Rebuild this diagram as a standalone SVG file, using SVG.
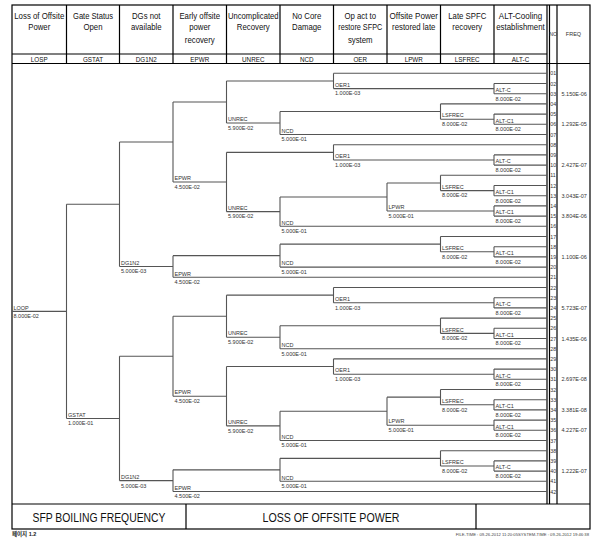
<svg xmlns="http://www.w3.org/2000/svg" width="592" height="538" viewBox="0 0 592 538">
<style>
.fr{stroke:#000;stroke-width:1.2;fill:none}
.br{stroke:#555;stroke-width:1.1;fill:none}
text{font-family:"Liberation Sans",Arial,sans-serif}
.hd{font-size:9.5px;text-anchor:middle;fill:#111}
.cd{font-size:6.3px;text-anchor:middle;fill:#111}
.lb{font-size:5.5px;fill:#333}
.no{font-size:5.3px;fill:#333}
.fq{font-size:5.5px;fill:#333}
.ttl{font-size:13.5px;text-anchor:middle;fill:#111}
</style>
<rect width="592" height="538" fill="#fff"/>
<g id="frame">
<rect class="fr" x="12" y="5" width="578" height="524"/>
<path class="fr" d="M12 54H547M12 63.5H590M12 504H590"/>
<path class="fr" d="M66.5 5V63.5M119.5 5V63.5M173 5V63.5M226.5 5V63.5M280 5V63.5M333.5 5V63.5M387 5V63.5M440.5 5V63.5M494 5V63.5"/>
<path class="fr" d="M547 5V504M549.5 5V504M557 5V504M186 504V529M476 504V529"/>
</g>
<g id="header">
<g id="h-losp"><text class="hd" x="39.25" y="18.5" textLength="50" lengthAdjust="spacingAndGlyphs">Loss of Offsite</text><text class="hd" x="39.25" y="30" textLength="22" lengthAdjust="spacingAndGlyphs">Power</text><text class="cd" x="39.25" y="61.5">LOSP</text></g>
<g id="h-gstat"><text class="hd" x="93" y="18.5" textLength="40" lengthAdjust="spacingAndGlyphs">Gate Status</text><text class="hd" x="93" y="30" textLength="19" lengthAdjust="spacingAndGlyphs">Open</text><text class="cd" x="93" y="61.5">GSTAT</text></g>
<g id="h-dg1n2"><text class="hd" x="146.25" y="18.5" textLength="28.5" lengthAdjust="spacingAndGlyphs">DGs not</text><text class="hd" x="146.25" y="30" textLength="30.7" lengthAdjust="spacingAndGlyphs">available</text><text class="cd" x="146.25" y="61.5">DG1N2</text></g>
<g id="h-epwr"><text class="hd" x="199.75" y="18.5" textLength="40.7" lengthAdjust="spacingAndGlyphs">Early offsite</text><text class="hd" x="199.75" y="30" textLength="21.2" lengthAdjust="spacingAndGlyphs">power</text><text class="hd" x="199.75" y="42.5" textLength="29.9" lengthAdjust="spacingAndGlyphs">recovery</text><text class="cd" x="199.75" y="61.5">EPWR</text></g>
<g id="h-unrec"><text class="hd" x="253.25" y="18.5" textLength="50.5" lengthAdjust="spacingAndGlyphs">Uncomplicated</text><text class="hd" x="253.25" y="30" textLength="32.9" lengthAdjust="spacingAndGlyphs">Recovery</text><text class="cd" x="253.25" y="61.5">UNREC</text></g>
<g id="h-ncd"><text class="hd" x="306.75" y="18.5" textLength="29" lengthAdjust="spacingAndGlyphs">No Core</text><text class="hd" x="306.75" y="30" textLength="29.4" lengthAdjust="spacingAndGlyphs">Damage</text><text class="cd" x="306.75" y="61.5">NCD</text></g>
<g id="h-oer"><text class="hd" x="360.25" y="18.5" textLength="31.6" lengthAdjust="spacingAndGlyphs">Op act to</text><text class="hd" x="360.25" y="30" textLength="44" lengthAdjust="spacingAndGlyphs">restore SFPC</text><text class="hd" x="360.25" y="42.5" textLength="24.7" lengthAdjust="spacingAndGlyphs">system</text><text class="cd" x="360.25" y="61.5">OER</text></g>
<g id="h-lpwr"><text class="hd" x="413.75" y="18.5" textLength="48.5" lengthAdjust="spacingAndGlyphs">Offsite Power</text><text class="hd" x="413.75" y="30" textLength="43.3" lengthAdjust="spacingAndGlyphs">restored late</text><text class="cd" x="413.75" y="61.5">LPWR</text></g>
<g id="h-lsfrec"><text class="hd" x="467.25" y="18.5" textLength="38" lengthAdjust="spacingAndGlyphs">Late SPFC</text><text class="hd" x="467.25" y="30" textLength="29.9" lengthAdjust="spacingAndGlyphs">recovery</text><text class="cd" x="467.25" y="61.5">LSFREC</text></g>
<g id="h-altc"><text class="hd" x="520.5" y="18.5" textLength="43.3" lengthAdjust="spacingAndGlyphs">ALT-Cooling</text><text class="hd" x="520.5" y="30" textLength="48.5" lengthAdjust="spacingAndGlyphs">establishment</text><text class="cd" x="520.5" y="61.5">ALT-C</text></g>
<g id="h-no"><text class="no" x="553.25" y="35.5" text-anchor="middle">NO</text></g>
<g id="h-freq"><text class="fq" x="573.5" y="35.5" text-anchor="middle">FREQ</text></g>
</g>
<g id="connectors" class="br">
<path d="M12 311.33H66.5M66.5 204.23H119.5M66.5 418.43H119.5M119.5 141.99H173M119.5 266.46H173M119.5 356.19H173M119.5 480.66H173M173 101.99H226.5M173 181.99H226.5M173 316.19H226.5M173 396.19H226.5"/>
<path d="M226.5 80.95H333.5M226.5 123.03H280M333.5 73.3H547M333.5 88.6H494M494 83.5H547M494 93.7H547M280 111.55H440.5M280 134.5H547M440.5 103.9H547M440.5 119.2H494M494 114.1H547M494 124.3H547"/>
<path d="M226.5 152.35H333.5M226.5 211.64H280M333.5 144.7H547M333.5 160H494M494 154.9H547M494 165.1H547M280 196.98H387M280 226.3H547M387 182.95H440.5M387 211H494M440.5 175.3H547M440.5 190.6H494M494 185.5H547M494 195.7H547M494 205.9H547M494 216.1H547"/>
<path d="M173 255.63H280M173 277.3H547M280 244.15H440.5M280 267.1H547M440.5 236.5H547M440.5 251.8H494M494 246.7H547M494 256.9H547"/>
<path d="M226.5 295.15H333.5M226.5 337.23H280M333.5 287.5H547M333.5 302.8H494M494 297.7H547M494 307.9H547M280 325.75H440.5M280 348.7H547M440.5 318.1H547M440.5 333.4H494M494 328.3H547M494 338.5H547"/>
<path d="M226.5 366.55H333.5M226.5 425.84H280M333.5 358.9H547M333.5 374.2H494M494 369.1H547M494 379.3H547M280 411.18H387M280 440.5H547M387 397.15H440.5M387 425.2H494M440.5 389.5H547M440.5 404.8H494M494 399.7H547M494 409.9H547M494 420.1H547M494 430.3H547"/>
<path d="M173 469.83H280M173 491.5H547M280 458.35H440.5M280 481.3H547M440.5 450.7H547M440.5 466H494M494 460.9H547M494 471.1H547"/>
</g>
<g id="nodes">
<g id="n-losp"><text class="lb" x="13.5" y="309.5">LOOP</text><text class="lb" x="13.5" y="318.1">8.000E-02</text></g>
<g id="n-gstat"><path class="br" d="M66.5 204.23V418.43"/><text class="lb" x="68" y="416.6">GSTAT</text><text class="lb" x="68" y="425.2">1.000E-01</text></g>
<g id="n-dg1n2-a"><path class="br" d="M119.5 141.99V266.46"/><text class="lb" x="121" y="264.7">DG1N2</text><text class="lb" x="121" y="273.3">5.000E-03</text></g>
<g id="n-dg1n2-b"><path class="br" d="M119.5 356.19V480.66"/><text class="lb" x="121" y="478.9">DG1N2</text><text class="lb" x="121" y="487.5">5.000E-03</text></g>
<g id="n-epwr-a"><path class="br" d="M173 101.99V181.99"/><text class="lb" x="174.5" y="180.2">EPWR</text><text class="lb" x="174.5" y="188.8">4.500E-02</text></g>
<g id="n-epwr-b"><path class="br" d="M173 255.63V277.3"/><text class="lb" x="174.5" y="275.5">EPWR</text><text class="lb" x="174.5" y="284.1">4.500E-02</text></g>
<g id="n-epwr-c"><path class="br" d="M173 316.19V396.19"/><text class="lb" x="174.5" y="394.4">EPWR</text><text class="lb" x="174.5" y="403">4.500E-02</text></g>
<g id="n-epwr-d"><path class="br" d="M173 469.83V491.5"/><text class="lb" x="174.5" y="489.7">EPWR</text><text class="lb" x="174.5" y="498.3">4.500E-02</text></g>
<g id="n-unrec-a"><path class="br" d="M226.5 80.95V123.03"/><text class="lb" x="228" y="121.2">UNREC</text><text class="lb" x="228" y="129.8">5.900E-02</text></g>
<g id="n-unrec-b"><path class="br" d="M226.5 152.35V211.64"/><text class="lb" x="228" y="209.8">UNREC</text><text class="lb" x="228" y="218.4">5.900E-02</text></g>
<g id="n-unrec-c"><path class="br" d="M226.5 295.15V337.23"/><text class="lb" x="228" y="335.4">UNREC</text><text class="lb" x="228" y="344">5.900E-02</text></g>
<g id="n-unrec-d"><path class="br" d="M226.5 366.55V425.84"/><text class="lb" x="228" y="424">UNREC</text><text class="lb" x="228" y="432.6">5.900E-02</text></g>
<g id="n-ncd-a"><path class="br" d="M280 111.55V134.5"/><text class="lb" x="281.5" y="132.7">NCD</text><text class="lb" x="281.5" y="141.3">5.000E-01</text></g>
<g id="n-ncd-b"><path class="br" d="M280 196.98V226.3"/><text class="lb" x="281.5" y="224.5">NCD</text><text class="lb" x="281.5" y="233.1">5.000E-01</text></g>
<g id="n-ncd-c"><path class="br" d="M280 244.15V267.1"/><text class="lb" x="281.5" y="265.3">NCD</text><text class="lb" x="281.5" y="273.9">5.000E-01</text></g>
<g id="n-ncd-d"><path class="br" d="M280 325.75V348.7"/><text class="lb" x="281.5" y="346.9">NCD</text><text class="lb" x="281.5" y="355.5">5.000E-01</text></g>
<g id="n-ncd-e"><path class="br" d="M280 411.18V440.5"/><text class="lb" x="281.5" y="438.7">NCD</text><text class="lb" x="281.5" y="447.3">5.000E-01</text></g>
<g id="n-ncd-f"><path class="br" d="M280 458.35V481.3"/><text class="lb" x="281.5" y="479.5">NCD</text><text class="lb" x="281.5" y="488.1">5.000E-01</text></g>
<g id="n-oer1-a"><path class="br" d="M333.5 73.3V88.6"/><text class="lb" x="335" y="86.8">OER1</text><text class="lb" x="335" y="95.4">1.000E-03</text></g>
<g id="n-oer1-b"><path class="br" d="M333.5 144.7V160"/><text class="lb" x="335" y="158.2">OER1</text><text class="lb" x="335" y="166.8">1.000E-03</text></g>
<g id="n-oer1-c"><path class="br" d="M333.5 287.5V302.8"/><text class="lb" x="335" y="301">OER1</text><text class="lb" x="335" y="309.6">1.000E-03</text></g>
<g id="n-oer1-d"><path class="br" d="M333.5 358.9V374.2"/><text class="lb" x="335" y="372.4">OER1</text><text class="lb" x="335" y="381">1.000E-03</text></g>
<g id="n-lpwr-a"><path class="br" d="M387 182.95V211"/><text class="lb" x="388.5" y="209.2">LPWR</text><text class="lb" x="388.5" y="217.8">5.000E-01</text></g>
<g id="n-lpwr-b"><path class="br" d="M387 397.15V425.2"/><text class="lb" x="388.5" y="423.4">LPWR</text><text class="lb" x="388.5" y="432">5.000E-01</text></g>
<g id="n-lsfrec-a"><path class="br" d="M440.5 103.9V119.2"/><text class="lb" x="442" y="117.4">LSFREC</text><text class="lb" x="442" y="126">8.000E-02</text></g>
<g id="n-lsfrec-b"><path class="br" d="M440.5 175.3V190.6"/><text class="lb" x="442" y="188.8">LSFREC</text><text class="lb" x="442" y="197.4">8.000E-02</text></g>
<g id="n-lsfrec-c"><path class="br" d="M440.5 236.5V251.8"/><text class="lb" x="442" y="250">LSFREC</text><text class="lb" x="442" y="258.6">8.000E-02</text></g>
<g id="n-lsfrec-d"><path class="br" d="M440.5 318.1V333.4"/><text class="lb" x="442" y="331.6">LSFREC</text><text class="lb" x="442" y="340.2">8.000E-02</text></g>
<g id="n-lsfrec-e"><path class="br" d="M440.5 389.5V404.8"/><text class="lb" x="442" y="403">LSFREC</text><text class="lb" x="442" y="411.6">8.000E-02</text></g>
<g id="n-lsfrec-f"><path class="br" d="M440.5 450.7V466"/><text class="lb" x="442" y="464.2">LSFREC</text><text class="lb" x="442" y="472.8">8.000E-02</text></g>
<g id="n-altc-a"><path class="br" d="M494 83.5V93.7"/><text class="lb" x="495.5" y="91.9">ALT-C</text><text class="lb" x="495.5" y="100.5">8.000E-02</text></g>
<g id="n-altc1-a"><path class="br" d="M494 114.1V124.3"/><text class="lb" x="495.5" y="122.5">ALT-C1</text><text class="lb" x="495.5" y="131.1">8.000E-02</text></g>
<g id="n-altc-b"><path class="br" d="M494 154.9V165.1"/><text class="lb" x="495.5" y="163.3">ALT-C</text><text class="lb" x="495.5" y="171.9">8.000E-02</text></g>
<g id="n-altc1-b"><path class="br" d="M494 185.5V195.7"/><text class="lb" x="495.5" y="193.9">ALT-C1</text><text class="lb" x="495.5" y="202.5">8.000E-02</text></g>
<g id="n-altc1-c"><path class="br" d="M494 205.9V216.1"/><text class="lb" x="495.5" y="214.3">ALT-C1</text><text class="lb" x="495.5" y="222.9">8.000E-02</text></g>
<g id="n-altc1-d"><path class="br" d="M494 246.7V256.9"/><text class="lb" x="495.5" y="255.1">ALT-C1</text><text class="lb" x="495.5" y="263.7">8.000E-02</text></g>
<g id="n-altc-c"><path class="br" d="M494 297.7V307.9"/><text class="lb" x="495.5" y="306.1">ALT-C</text><text class="lb" x="495.5" y="314.7">8.000E-02</text></g>
<g id="n-altc1-e"><path class="br" d="M494 328.3V338.5"/><text class="lb" x="495.5" y="336.7">ALT-C1</text><text class="lb" x="495.5" y="345.3">8.000E-02</text></g>
<g id="n-altc-d"><path class="br" d="M494 369.1V379.3"/><text class="lb" x="495.5" y="377.5">ALT-C</text><text class="lb" x="495.5" y="386.1">8.000E-02</text></g>
<g id="n-altc1-f"><path class="br" d="M494 399.7V409.9"/><text class="lb" x="495.5" y="408.1">ALT-C1</text><text class="lb" x="495.5" y="416.7">8.000E-02</text></g>
<g id="n-altc1-g"><path class="br" d="M494 420.1V430.3"/><text class="lb" x="495.5" y="428.5">ALT-C1</text><text class="lb" x="495.5" y="437.1">8.000E-02</text></g>
<g id="n-altc-e"><path class="br" d="M494 460.9V471.1"/><text class="lb" x="495.5" y="469.3">ALT-C</text><text class="lb" x="495.5" y="477.9">8.000E-02</text></g>
</g>
<g id="seq-no" class="no">
<text x="550.3" y="75.3">01</text><text x="550.3" y="85.5">02</text><text x="550.3" y="95.7">03</text><text x="550.3" y="105.9">04</text><text x="550.3" y="116.1">05</text><text x="550.3" y="126.3">06</text><text x="550.3" y="136.5">07</text><text x="550.3" y="146.7">08</text><text x="550.3" y="156.9">09</text><text x="550.3" y="167.1">10</text><text x="550.3" y="177.3">11</text><text x="550.3" y="187.5">12</text><text x="550.3" y="197.7">13</text><text x="550.3" y="207.9">14</text><text x="550.3" y="218.1">15</text><text x="550.3" y="228.3">16</text><text x="550.3" y="238.5">17</text><text x="550.3" y="248.7">18</text><text x="550.3" y="258.9">19</text><text x="550.3" y="269.1">20</text><text x="550.3" y="279.3">21</text><text x="550.3" y="289.5">22</text><text x="550.3" y="299.7">23</text><text x="550.3" y="309.9">24</text><text x="550.3" y="320.1">25</text><text x="550.3" y="330.3">26</text><text x="550.3" y="340.5">27</text><text x="550.3" y="350.7">28</text><text x="550.3" y="360.9">29</text><text x="550.3" y="371.1">30</text><text x="550.3" y="381.3">31</text><text x="550.3" y="391.5">32</text><text x="550.3" y="401.7">33</text><text x="550.3" y="411.9">34</text><text x="550.3" y="422.1">35</text><text x="550.3" y="432.3">36</text><text x="550.3" y="442.5">37</text><text x="550.3" y="452.7">38</text><text x="550.3" y="462.9">39</text><text x="550.3" y="473.1">40</text><text x="550.3" y="483.3">41</text><text x="550.3" y="493.5">42</text>
</g>
<g id="freq" class="fq">
<text x="561.5" y="95.7">5.150E-06</text><text x="561.5" y="126.3">1.292E-05</text><text x="561.5" y="167.1">2.427E-07</text><text x="561.5" y="197.7">3.043E-07</text><text x="561.5" y="218.1">3.804E-06</text><text x="561.5" y="258.9">1.100E-06</text><text x="561.5" y="309.9">5.723E-07</text><text x="561.5" y="340.5">1.435E-06</text><text x="561.5" y="381.3">2.697E-08</text><text x="561.5" y="411.9">3.381E-08</text><text x="561.5" y="432.3">4.227E-07</text><text x="561.5" y="473.1">1.222E-07</text>
</g>
<g id="title">
<text class="ttl" x="99" y="521.5" textLength="133" lengthAdjust="spacingAndGlyphs">SFP BOILING FREQUENCY</text>
<text class="ttl" x="331" y="521.5" textLength="137" lengthAdjust="spacingAndGlyphs">LOSS OF OFFSITE POWER</text>
</g>
<g id="footer">
<text x="12" y="535.5" style="font-family:'Liberation Sans','Noto Sans CJK KR',sans-serif;font-size:5.5px;font-weight:bold;fill:#222">페이지 1.2</text>
<text x="589" y="535.5" text-anchor="end" style="font-size:4.2px;fill:#444">FILE-TIME : 09-26-2012 11:20:05SYSTEM-TIME : 09-26-2012 19:46:38</text>
</g>
</svg>
